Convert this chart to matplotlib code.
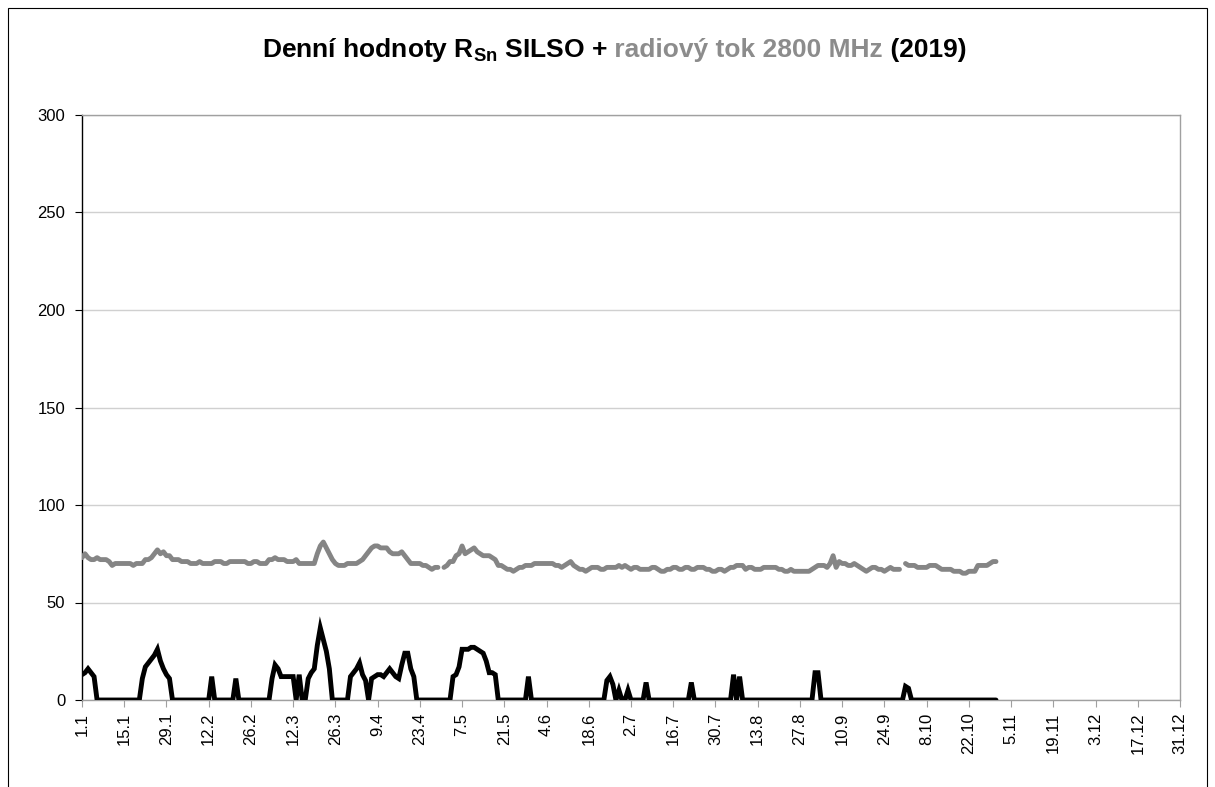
import numpy as np
import matplotlib
matplotlib.use("Agg")
import matplotlib.pyplot as plt
from matplotlib.offsetbox import TextArea, HPacker, AnchoredOffsetbox
from matplotlib.patches import Rectangle

nan = np.nan

# Daily sunspot number R_Sn (1.1.2019 - 31.10.2019)
sunspots = [
    13, 14, 16, 14, 12, 0, 0, 0, 0, 0,
    0, 0, 0, 0, 0, 0, 0, 0, 0, 0,
    11, 17, 19, 21, 23, 26, 20, 16, 13, 11,
    0, 0, 0, 0, 0, 0, 0, 0, 0, 0,
    0, 0, 0, 12, 0, 0, 0, 0, 0, 0,
    0, 11, 0, 0, 0, 0, 0, 0, 0, 0,
    0, 0, 0, 11, 18, 16, 12, 12, 12, 12,
    12, 0, 13, 0, 0, 11, 14, 16, 28, 37,
    31, 25, 16, 0, 0, 0, 0, 0, 0, 12,
    14, 16, 19, 13, 10, 0, 11, 12, 13, 13,
    12, 14, 16, 14, 12, 11, 18, 24, 24, 16,
    12, 0, 0, 0, 0, 0, 0, 0, 0, 0,
    0, 0, 0, 12, 13, 17, 26, 26, 26, 27,
    27, 26, 25, 24, 20, 14, 14, 13, 0, 0,
    0, 0, 0, 0, 0, 0, 0, 0, 12, 0,
    0, 0, 0, 0, 0, 0, 0, 0, 0, 0,
    0, 0, 0, 0, 0, 0, 0, 0, 0, 0,
    0, 0, 0, 0, 10, 12, 8, 0, 5, 0,
    0, 5, 0, 0, 0, 0, 0, 9, 0, 0,
    0, 0, 0, 0, 0, 0, 0, 0, 0, 0,
    0, 0, 9, 0, 0, 0, 0, 0, 0, 0,
    0, 0, 0, 0, 0, 0, 13, 0, 12, 0,
    0, 0, 0, 0, 0, 0, 0, 0, 0, 0,
    0, 0, 0, 0, 0, 0, 0, 0, 0, 0,
    0, 0, 0, 14, 14, 0, 0, 0, 0, 0,
    0, 0, 0, 0, 0, 0, 0, 0, 0, 0,
    0, 0, 0, 0, 0, 0, 0, 0, 0, 0,
    0, 0, 0, 7, 6, 0, 0, 0, 0, 0,
    0, 0, 0, 0, 0, 0, 0, 0, 0, 0,
    0, 0, 0, 0, 0, 0, 0, 0, 0, 0,
    0, 0, 0, 0,
]

# Daily radio flux 2800 MHz (F10.7)
radio_flux = [
    73, 75, 73, 72, 72, 73, 72, 72, 72, 71,
    69, 70, 70, 70, 70, 70, 70, 69, 70, 70,
    70, 72, 72, 73, 75, 77, 75, 76, 74, 74,
    72, 72, 72, 71, 71, 71, 70, 70, 70, 71,
    70, 70, 70, 70, 71, 71, 71, 70, 70, 71,
    71, 71, 71, 71, 71, 70, 70, 71, 71, 70,
    70, 70, 72, 72, 73, 72, 72, 72, 71, 71,
    71, 72, 70, 70, 70, 70, 70, 70, 75, 79,
    81, 78, 75, 72, 70, 69, 69, 69, 70, 70,
    70, 70, 71, 72, 74, 76, 78, 79, 79, 78,
    78, 78, 76, 75, 75, 75, 76, 74, 72, 70,
    70, 70, 70, 69, 69, 68, 67, 68, 68, nan,
    68, 69, 71, 71, 74, 75, 79, 75, 76, 77,
    78, 76, 75, 74, 74, 74, 73, 72, 69, 69,
    68, 67, 67, 66, 67, 68, 68, 69, 69, 69,
    70, 70, 70, 70, 70, 70, 70, 69, 69, 68,
    69, 70, 71, 69, 68, 67, 67, 66, 67, 68,
    68, 68, 67, 67, 68, 68, 68, 68, 69, 68,
    69, 68, 67, 68, 68, 67, 67, 67, 67, 68,
    68, 67, 66, 66, 67, 67, 68, 68, 67, 67,
    68, 68, 67, 67, 68, 68, 68, 67, 67, 66,
    66, 67, 67, 66, 67, 68, 68, 69, 69, 69,
    67, 68, 68, 67, 67, 67, 68, 68, 68, 68,
    68, 67, 67, 66, 66, 67, 66, 66, 66, 66,
    66, 66, 67, 68, 69, 69, 69, 68, 70, 74,
    68, 71, 70, 70, 69, 69, 70, 69, 68, 67,
    66, 67, 68, 68, 67, 67, 66, 67, 68, 67,
    67, 67, nan, 70, 69, 69, 69, 68, 68, 68,
    68, 69, 69, 69, 68, 67, 67, 67, 67, 66,
    66, 66, 65, 65, 66, 66, 66, 69, 69, 69,
    69, 70, 71, 71,
]

n_days_year = 365
tick_labels = ["1.1", "15.1", "29.1", "12.2", "26.2", "12.3", "26.3", "9.4",
               "23.4", "7.5", "21.5", "4.6", "18.6", "2.7", "16.7", "30.7",
               "13.8", "27.8", "10.9", "24.9", "8.10", "22.10", "5.11",
               "19.11", "3.12", "17.12", "31.12"]
tick_step = 14
y_ticks = [0, 50, 100, 150, 200, 250, 300]

plt.rcParams['font.family'] = ['Liberation Sans', 'DejaVu Sans']
plt.rcParams['mathtext.fontset'] = 'custom'
plt.rcParams['mathtext.rm'] = 'Liberation Sans:bold'
plt.rcParams['mathtext.bf'] = 'Liberation Sans:bold'

W, H = 1215, 787
fig = plt.figure(figsize=(W / 100, H / 100), dpi=100)
ax = fig.add_axes([82 / W, (H - 700) / H, (1180 - 82) / W, (700 - 115) / H])

days_r = np.arange(len(sunspots))
days_f = np.arange(len(radio_flux))
ax.plot(days_f, radio_flux, color='#858585', lw=3.5, solid_capstyle='round',
        solid_joinstyle='round', zorder=3)
ax.plot(days_r, sunspots, color='black', lw=3.5, solid_capstyle='round',
        solid_joinstyle='miter', zorder=4)

ax.set_xlim(0, n_days_year - 1)
ax.set_ylim(0, 300)
ax.set_yticks(y_ticks)
ax.set_yticklabels([str(v) for v in y_ticks], fontsize=12)
xt = np.arange(len(tick_labels)) * tick_step
ax.set_xticks(xt)
ax.set_xticklabels(tick_labels, rotation=90, fontsize=12)
ax.yaxis.grid(True, color='#d0d0d0', lw=1.0)
ax.set_axisbelow(True)
ax.tick_params(axis='x', direction='out', length=5, color='#a0a0a0', pad=4)
ax.tick_params(axis='y', direction='out', length=5, color='black', pad=7)
ax.spines['left'].set_color('black')
ax.spines['bottom'].set_color('#a0a0a0')
ax.spines['top'].set_color('#a0a0a0')
ax.spines['right'].set_color('#a0a0a0')
for s in ax.spines.values():
    s.set_linewidth(1.0)

# Title made of coloured pieces
fs = 19
t1 = TextArea("Denní hodnoty R$_{\\mathrm{Sn}}$ SILSO +",
              textprops=dict(fontsize=fs, fontweight='bold', color='black'))
t2 = TextArea(" radiový tok 2800 MHz",
              textprops=dict(fontsize=fs, fontweight='bold', color='#8c8c8c'))
t3 = TextArea(" (2019)",
              textprops=dict(fontsize=fs, fontweight='bold', color='black'))
pack = HPacker(children=[t1, t2, t3], sep=0, pad=0, align='baseline')
anch = AnchoredOffsetbox(loc='center', child=pack, pad=0, borderpad=0,
                         frameon=False, bbox_to_anchor=(614 / W, 1 - 50 / H),
                         bbox_transform=fig.transFigure)
fig.add_artist(anch)

# Chart area border
fig.add_artist(Rectangle((8 / W, -0.05), (1207 - 8) / W, 1.05 - 8 / H,
                         transform=fig.transFigure, fill=False,
                         edgecolor='black', lw=0.8))

fig.savefig("out.png", dpi=100)
